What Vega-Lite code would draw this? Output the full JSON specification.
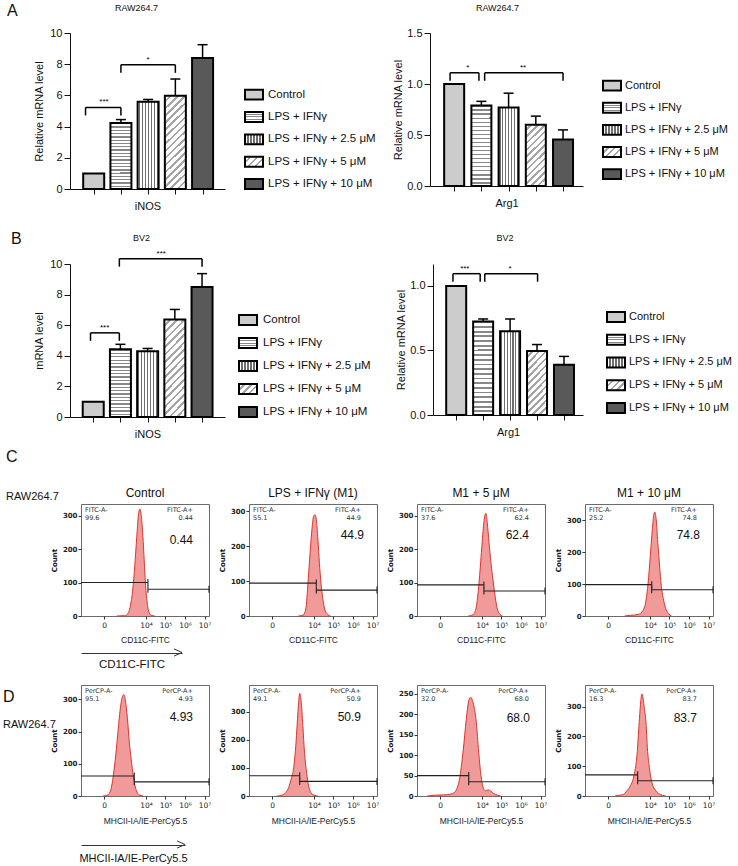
{
"$schema": "https://vega.github.io/schema/vega-lite/v6.json",
"background": "white",
"padding": {"left": 0, "top": 3, "right": 0, "bottom": 0},
"config": {
  "font": "Liberation Sans",
  "view": {"stroke": null},
  "axis": {"grid": false, "tickCount": 30, "labelOverlap": false, "labelBound": false, "labelFont": "Liberation Sans", "titleFont": "Liberation Sans", "titleFontWeight": "normal", "labelColor": "#111", "titleColor": "#111", "domainColor": "#111", "tickColor": "#111"},
  "title": {"font": "Liberation Sans", "fontWeight": "normal", "color": "#111"}
},
"params": [
  {"name": "gH", "value": {"gradient": "linear", "x1": 0, "y1": 0, "x2": 0.0001, "y2": 1, "stops": [
    {"offset":0,"color":"#888"},{"offset":0.02,"color":"#888"},{"offset":0.02,"color":"#fff"},{"offset":0.05,"color":"#fff"},
    {"offset":0.05,"color":"#888"},{"offset":0.07,"color":"#888"},{"offset":0.07,"color":"#fff"},{"offset":0.1,"color":"#fff"},
    {"offset":0.1,"color":"#888"},{"offset":0.12,"color":"#888"},{"offset":0.12,"color":"#fff"},{"offset":0.15,"color":"#fff"},
    {"offset":0.15,"color":"#888"},{"offset":0.17,"color":"#888"},{"offset":0.17,"color":"#fff"},{"offset":0.2,"color":"#fff"},
    {"offset":0.2,"color":"#888"},{"offset":0.22,"color":"#888"},{"offset":0.22,"color":"#fff"},{"offset":0.25,"color":"#fff"},
    {"offset":0.25,"color":"#888"},{"offset":0.27,"color":"#888"},{"offset":0.27,"color":"#fff"},{"offset":0.3,"color":"#fff"},
    {"offset":0.3,"color":"#888"},{"offset":0.32,"color":"#888"},{"offset":0.32,"color":"#fff"},{"offset":0.35,"color":"#fff"},
    {"offset":0.35,"color":"#888"},{"offset":0.37,"color":"#888"},{"offset":0.37,"color":"#fff"},{"offset":0.4,"color":"#fff"},
    {"offset":0.4,"color":"#888"},{"offset":0.42,"color":"#888"},{"offset":0.42,"color":"#fff"},{"offset":0.45,"color":"#fff"},
    {"offset":0.45,"color":"#888"},{"offset":0.47,"color":"#888"},{"offset":0.47,"color":"#fff"},{"offset":0.5,"color":"#fff"},
    {"offset":0.5,"color":"#888"},{"offset":0.52,"color":"#888"},{"offset":0.52,"color":"#fff"},{"offset":0.55,"color":"#fff"},
    {"offset":0.55,"color":"#888"},{"offset":0.57,"color":"#888"},{"offset":0.57,"color":"#fff"},{"offset":0.6,"color":"#fff"},
    {"offset":0.6,"color":"#888"},{"offset":0.62,"color":"#888"},{"offset":0.62,"color":"#fff"},{"offset":0.65,"color":"#fff"},
    {"offset":0.65,"color":"#888"},{"offset":0.67,"color":"#888"},{"offset":0.67,"color":"#fff"},{"offset":0.7,"color":"#fff"},
    {"offset":0.7,"color":"#888"},{"offset":0.72,"color":"#888"},{"offset":0.72,"color":"#fff"},{"offset":0.75,"color":"#fff"},
    {"offset":0.75,"color":"#888"},{"offset":0.77,"color":"#888"},{"offset":0.77,"color":"#fff"},{"offset":0.8,"color":"#fff"},
    {"offset":0.8,"color":"#888"},{"offset":0.82,"color":"#888"},{"offset":0.82,"color":"#fff"},{"offset":0.85,"color":"#fff"},
    {"offset":0.85,"color":"#888"},{"offset":0.87,"color":"#888"},{"offset":0.87,"color":"#fff"},{"offset":0.9,"color":"#fff"},
    {"offset":0.9,"color":"#888"},{"offset":0.92,"color":"#888"},{"offset":0.92,"color":"#fff"},{"offset":0.95,"color":"#fff"},
    {"offset":0.95,"color":"#888"},{"offset":0.97,"color":"#888"},{"offset":0.97,"color":"#fff"},{"offset":1,"color":"#fff"}]}},
  {"name": "gV", "value": {"gradient": "linear", "x1": 0, "y1": 0, "x2": 1, "y2": 0, "stops": [
    {"offset":0,"color":"#fff"},{"offset":0.045,"color":"#fff"},{"offset":0.045,"color":"#6e6e6e"},{"offset":0.1,"color":"#6e6e6e"},
    {"offset":0.1,"color":"#fff"},{"offset":0.188,"color":"#fff"},{"offset":0.188,"color":"#6e6e6e"},{"offset":0.243,"color":"#6e6e6e"},
    {"offset":0.243,"color":"#fff"},{"offset":0.331,"color":"#fff"},{"offset":0.331,"color":"#6e6e6e"},{"offset":0.386,"color":"#6e6e6e"},
    {"offset":0.386,"color":"#fff"},{"offset":0.474,"color":"#fff"},{"offset":0.474,"color":"#6e6e6e"},{"offset":0.529,"color":"#6e6e6e"},
    {"offset":0.529,"color":"#fff"},{"offset":0.617,"color":"#fff"},{"offset":0.617,"color":"#6e6e6e"},{"offset":0.672,"color":"#6e6e6e"},
    {"offset":0.672,"color":"#fff"},{"offset":0.76,"color":"#fff"},{"offset":0.76,"color":"#6e6e6e"},{"offset":0.815,"color":"#6e6e6e"},
    {"offset":0.815,"color":"#fff"},{"offset":0.902,"color":"#fff"},{"offset":0.902,"color":"#6e6e6e"},{"offset":0.957,"color":"#6e6e6e"},
    {"offset":0.957,"color":"#fff"},{"offset":1,"color":"#fff"}]}},
  {"name": "gD1", "value": {"gradient": "linear", "x1": 0, "y1": 0, "x2": 0.256, "y2": 1.164, "stops": [
    {"offset":0,"color":"#fff"},{"offset":0.04,"color":"#fff"},{"offset":0.04,"color":"#a5a5a5"},{"offset":0.0625,"color":"#a5a5a5"},
    {"offset":0.0625,"color":"#fff"},{"offset":0.1025,"color":"#fff"},{"offset":0.1025,"color":"#a5a5a5"},{"offset":0.125,"color":"#a5a5a5"},
    {"offset":0.125,"color":"#fff"},{"offset":0.165,"color":"#fff"},{"offset":0.165,"color":"#a5a5a5"},{"offset":0.1875,"color":"#a5a5a5"},
    {"offset":0.1875,"color":"#fff"},{"offset":0.2275,"color":"#fff"},{"offset":0.2275,"color":"#a5a5a5"},{"offset":0.25,"color":"#a5a5a5"},
    {"offset":0.25,"color":"#fff"},{"offset":0.29,"color":"#fff"},{"offset":0.29,"color":"#a5a5a5"},{"offset":0.3125,"color":"#a5a5a5"},
    {"offset":0.3125,"color":"#fff"},{"offset":0.3525,"color":"#fff"},{"offset":0.3525,"color":"#a5a5a5"},{"offset":0.375,"color":"#a5a5a5"},
    {"offset":0.375,"color":"#fff"},{"offset":0.415,"color":"#fff"},{"offset":0.415,"color":"#a5a5a5"},{"offset":0.4375,"color":"#a5a5a5"},
    {"offset":0.4375,"color":"#fff"},{"offset":0.4775,"color":"#fff"},{"offset":0.4775,"color":"#a5a5a5"},{"offset":0.5,"color":"#a5a5a5"},
    {"offset":0.5,"color":"#fff"},{"offset":0.54,"color":"#fff"},{"offset":0.54,"color":"#a5a5a5"},{"offset":0.5625,"color":"#a5a5a5"},
    {"offset":0.5625,"color":"#fff"},{"offset":0.6025,"color":"#fff"},{"offset":0.6025,"color":"#a5a5a5"},{"offset":0.625,"color":"#a5a5a5"},
    {"offset":0.625,"color":"#fff"},{"offset":0.665,"color":"#fff"},{"offset":0.665,"color":"#a5a5a5"},{"offset":0.6875,"color":"#a5a5a5"},
    {"offset":0.6875,"color":"#fff"},{"offset":0.7275,"color":"#fff"},{"offset":0.7275,"color":"#a5a5a5"},{"offset":0.75,"color":"#a5a5a5"},
    {"offset":0.75,"color":"#fff"},{"offset":0.79,"color":"#fff"},{"offset":0.79,"color":"#a5a5a5"},{"offset":0.8125,"color":"#a5a5a5"},
    {"offset":0.8125,"color":"#fff"},{"offset":0.8525,"color":"#fff"},{"offset":0.8525,"color":"#a5a5a5"},{"offset":0.875,"color":"#a5a5a5"},
    {"offset":0.875,"color":"#fff"},{"offset":0.915,"color":"#fff"},{"offset":0.915,"color":"#a5a5a5"},{"offset":0.9375,"color":"#a5a5a5"},
    {"offset":0.9375,"color":"#fff"},{"offset":0.9775,"color":"#fff"},{"offset":0.9775,"color":"#a5a5a5"},{"offset":1,"color":"#a5a5a5"}]}},
  {"name": "gD2", "value": {"gradient": "linear", "x1": 0, "y1": 0, "x2": 0.383, "y2": 1.197, "stops": [
    {"offset":0,"color":"#fff"},{"offset":0.053,"color":"#fff"},{"offset":0.053,"color":"#a5a5a5"},{"offset":0.0833,"color":"#a5a5a5"},
    {"offset":0.0833,"color":"#fff"},{"offset":0.1363,"color":"#fff"},{"offset":0.1363,"color":"#a5a5a5"},{"offset":0.1667,"color":"#a5a5a5"},
    {"offset":0.1667,"color":"#fff"},{"offset":0.2197,"color":"#fff"},{"offset":0.2197,"color":"#a5a5a5"},{"offset":0.25,"color":"#a5a5a5"},
    {"offset":0.25,"color":"#fff"},{"offset":0.303,"color":"#fff"},{"offset":0.303,"color":"#a5a5a5"},{"offset":0.3333,"color":"#a5a5a5"},
    {"offset":0.3333,"color":"#fff"},{"offset":0.3863,"color":"#fff"},{"offset":0.3863,"color":"#a5a5a5"},{"offset":0.4167,"color":"#a5a5a5"},
    {"offset":0.4167,"color":"#fff"},{"offset":0.4697,"color":"#fff"},{"offset":0.4697,"color":"#a5a5a5"},{"offset":0.5,"color":"#a5a5a5"},
    {"offset":0.5,"color":"#fff"},{"offset":0.553,"color":"#fff"},{"offset":0.553,"color":"#a5a5a5"},{"offset":0.5833,"color":"#a5a5a5"},
    {"offset":0.5833,"color":"#fff"},{"offset":0.6363,"color":"#fff"},{"offset":0.6363,"color":"#a5a5a5"},{"offset":0.6667,"color":"#a5a5a5"},
    {"offset":0.6667,"color":"#fff"},{"offset":0.7197,"color":"#fff"},{"offset":0.7197,"color":"#a5a5a5"},{"offset":0.75,"color":"#a5a5a5"},
    {"offset":0.75,"color":"#fff"},{"offset":0.803,"color":"#fff"},{"offset":0.803,"color":"#a5a5a5"},{"offset":0.8333,"color":"#a5a5a5"},
    {"offset":0.8333,"color":"#fff"},{"offset":0.8863,"color":"#fff"},{"offset":0.8863,"color":"#a5a5a5"},{"offset":0.9167,"color":"#a5a5a5"},
    {"offset":0.9167,"color":"#fff"},{"offset":0.9697,"color":"#fff"},{"offset":0.9697,"color":"#a5a5a5"},{"offset":1,"color":"#a5a5a5"}]}},
  {"name": "gHL", "value": {"gradient": "linear", "x1": 0, "y1": 0, "x2": 0.0001, "y2": 1, "stops": [
    {"offset":0,"color":"#fff"},{"offset":0.22,"color":"#fff"},{"offset":0.22,"color":"#888"},{"offset":0.32,"color":"#888"},
    {"offset":0.32,"color":"#fff"},{"offset":0.45,"color":"#fff"},{"offset":0.45,"color":"#888"},{"offset":0.55,"color":"#888"},
    {"offset":0.55,"color":"#fff"},{"offset":0.68,"color":"#fff"},{"offset":0.68,"color":"#888"},{"offset":0.78,"color":"#888"},
    {"offset":0.78,"color":"#fff"},{"offset":1,"color":"#fff"}]}},
  {"name": "gVL", "value": {"gradient": "linear", "x1": 0, "y1": 0, "x2": 1, "y2": 0, "stops": [
    {"offset":0,"color":"#fff"},{"offset":0.137,"color":"#fff"},{"offset":0.137,"color":"#6e6e6e"},{"offset":0.197,"color":"#6e6e6e"},
    {"offset":0.197,"color":"#fff"},{"offset":0.303,"color":"#fff"},{"offset":0.303,"color":"#6e6e6e"},{"offset":0.363,"color":"#6e6e6e"},
    {"offset":0.363,"color":"#fff"},{"offset":0.47,"color":"#fff"},{"offset":0.47,"color":"#6e6e6e"},{"offset":0.53,"color":"#6e6e6e"},
    {"offset":0.53,"color":"#fff"},{"offset":0.637,"color":"#fff"},{"offset":0.637,"color":"#6e6e6e"},{"offset":0.697,"color":"#6e6e6e"},
    {"offset":0.697,"color":"#fff"},{"offset":0.803,"color":"#fff"},{"offset":0.803,"color":"#6e6e6e"},{"offset":0.863,"color":"#6e6e6e"},
    {"offset":0.863,"color":"#fff"},{"offset":1,"color":"#fff"}]}},
  {"name": "gDL", "value": {"gradient": "linear", "x1": 0, "y1": 0, "x2": 1.19, "y2": 0.654, "stops": [
    {"offset":0,"color":"#fff"},{"offset":0.17,"color":"#fff"},{"offset":0.17,"color":"#a5a5a5"},{"offset":0.25,"color":"#a5a5a5"},
    {"offset":0.25,"color":"#fff"},{"offset":0.42,"color":"#fff"},{"offset":0.42,"color":"#a5a5a5"},{"offset":0.5,"color":"#a5a5a5"},
    {"offset":0.5,"color":"#fff"},{"offset":0.67,"color":"#fff"},{"offset":0.67,"color":"#a5a5a5"},{"offset":0.75,"color":"#a5a5a5"},
    {"offset":0.75,"color":"#fff"},{"offset":0.92,"color":"#fff"},{"offset":0.92,"color":"#a5a5a5"},{"offset":1,"color":"#a5a5a5"}]}}
],
"datasets": {
  "bars": [
    {"c":"A1","i":1,"v":1.0,"e":1.0},{"c":"A1","i":2,"v":4.23,"e":4.45},{"c":"A1","i":3,"v":5.6,"e":5.74},{"c":"A1","i":4,"v":5.97,"e":7.05},{"c":"A1","i":5,"v":8.39,"e":9.25},
    {"c":"A2","i":1,"v":1.0,"e":1.0},{"c":"A2","i":2,"v":0.79,"e":0.83},{"c":"A2","i":3,"v":0.77,"e":0.91},{"c":"A2","i":4,"v":0.6,"e":0.685},{"c":"A2","i":5,"v":0.457,"e":0.55},
    {"c":"B1","i":1,"v":1.0,"e":1.0},{"c":"B1","i":2,"v":4.42,"e":4.75},{"c":"B1","i":3,"v":4.29,"e":4.48},{"c":"B1","i":4,"v":6.38,"e":7.03},{"c":"B1","i":5,"v":8.5,"e":9.37},
    {"c":"B2","i":1,"v":1.0,"e":1.0},{"c":"B2","i":2,"v":0.725,"e":0.744},{"c":"B2","i":3,"v":0.648,"e":0.744},{"c":"B2","i":4,"v":0.495,"e":0.546},{"c":"B2","i":5,"v":0.39,"e":0.454}
  ],
  "sig": [
    {"c":"A1","a":0.7,"b":2,"y":5.23,"m":1.38,"s":"***"},{"c":"A1","a":2,"b":4,"y":7.96,"m":3,"s":"*"},
    {"c":"A2","a":0.85,"b":1.91,"y":1.11,"m":1.5,"s":"*"},{"c":"A2","a":2.12,"b":5,"y":1.11,"m":3.53,"s":"**"},
    {"c":"B1","a":0.9,"b":1.96,"y":5.5,"m":1.42,"s":"***"},{"c":"B1","a":1.96,"b":5,"y":10.35,"m":3.5,"s":"***"},
    {"c":"B2","a":0.88,"b":1.89,"y":1.095,"m":1.32,"s":"***"},{"c":"B2","a":2.06,"b":4.02,"y":1.095,"m":3.0,"s":"*"}
  ],
  "groups": [
    {"i":1,"g":"Control"},{"i":2,"g":"LPS + IFNγ"},{"i":3,"g":"LPS + IFNγ + 2.5 μM"},{"i":4,"g":"LPS + IFNγ + 5 μM"},{"i":5,"g":"LPS + IFNγ + 10 μM"}
  ],
  "curves": [
    {"p":"C1","x":2.5,"n":0},{"p":"C1","x":2.9,"n":1},{"p":"C1","x":3.05,"n":6},{"p":"C1","x":3.2,"n":30},{"p":"C1","x":3.35,"n":95},{"p":"C1","x":3.45,"n":170},{"p":"C1","x":3.55,"n":255},{"p":"C1","x":3.63,"n":310},{"p":"C1","x":3.69,"n":320},{"p":"C1","x":3.76,"n":300},{"p":"C1","x":3.84,"n":240},{"p":"C1","x":3.91,"n":165},{"p":"C1","x":3.97,"n":100},{"p":"C1","x":4.05,"n":45},{"p":"C1","x":4.14,"n":14},{"p":"C1","x":4.25,"n":3},{"p":"C1","x":4.45,"n":0},
    {"p":"C2","x":3.2,"n":0},{"p":"C2","x":3.45,"n":3},{"p":"C2","x":3.58,"n":20},{"p":"C2","x":3.7,"n":100},{"p":"C2","x":3.8,"n":180},{"p":"C2","x":3.9,"n":250},{"p":"C2","x":3.98,"n":285},{"p":"C2","x":4.05,"n":289},{"p":"C2","x":4.12,"n":275},{"p":"C2","x":4.2,"n":220},{"p":"C2","x":4.28,"n":150},{"p":"C2","x":4.35,"n":100},{"p":"C2","x":4.45,"n":50},{"p":"C2","x":4.55,"n":20},{"p":"C2","x":4.68,"n":6},{"p":"C2","x":4.85,"n":0},
    {"p":"C3","x":3.3,"n":0},{"p":"C3","x":3.55,"n":4},{"p":"C3","x":3.7,"n":25},{"p":"C3","x":3.85,"n":100},{"p":"C3","x":3.97,"n":190},{"p":"C3","x":4.08,"n":270},{"p":"C3","x":4.15,"n":302},{"p":"C3","x":4.2,"n":307},{"p":"C3","x":4.27,"n":280},{"p":"C3","x":4.36,"n":220},{"p":"C3","x":4.46,"n":160},{"p":"C3","x":4.56,"n":110},{"p":"C3","x":4.66,"n":65},{"p":"C3","x":4.76,"n":28},{"p":"C3","x":4.88,"n":8},{"p":"C3","x":5.05,"n":0},
    {"p":"C4","x":2.7,"n":0},{"p":"C4","x":3.0,"n":2},{"p":"C4","x":3.4,"n":5},{"p":"C4","x":3.65,"n":18},{"p":"C4","x":3.8,"n":50},{"p":"C4","x":3.9,"n":100},{"p":"C4","x":4.02,"n":190},{"p":"C4","x":4.12,"n":270},{"p":"C4","x":4.2,"n":318},{"p":"C4","x":4.25,"n":325},{"p":"C4","x":4.32,"n":300},{"p":"C4","x":4.4,"n":230},{"p":"C4","x":4.5,"n":150},{"p":"C4","x":4.57,"n":100},{"p":"C4","x":4.68,"n":55},{"p":"C4","x":4.8,"n":25},{"p":"C4","x":4.95,"n":8},{"p":"C4","x":5.1,"n":0},
    {"p":"D1","x":1.8,"n":0},{"p":"D1","x":2.05,"n":3},{"p":"D1","x":2.2,"n":20},{"p":"D1","x":2.32,"n":60},{"p":"D1","x":2.42,"n":110},{"p":"D1","x":2.55,"n":190},{"p":"D1","x":2.68,"n":270},{"p":"D1","x":2.8,"n":310},{"p":"D1","x":2.87,"n":315},{"p":"D1","x":2.95,"n":295},{"p":"D1","x":3.05,"n":240},{"p":"D1","x":3.15,"n":165},{"p":"D1","x":3.27,"n":100},{"p":"D1","x":3.38,"n":50},{"p":"D1","x":3.5,"n":18},{"p":"D1","x":3.65,"n":4},{"p":"D1","x":3.85,"n":0},
    {"p":"D2","x":2.1,"n":0},{"p":"D2","x":2.35,"n":3},{"p":"D2","x":2.55,"n":12},{"p":"D2","x":2.7,"n":30},{"p":"D2","x":2.85,"n":65},{"p":"D2","x":2.96,"n":100},{"p":"D2","x":3.08,"n":190},{"p":"D2","x":3.18,"n":300},{"p":"D2","x":3.27,"n":365},{"p":"D2","x":3.34,"n":340},{"p":"D2","x":3.43,"n":250},{"p":"D2","x":3.52,"n":150},{"p":"D2","x":3.6,"n":95},{"p":"D2","x":3.7,"n":45},{"p":"D2","x":3.82,"n":15},{"p":"D2","x":4.0,"n":3},{"p":"D2","x":4.2,"n":0},
    {"p":"D3","x":1.2,"n":0},{"p":"D3","x":1.6,"n":2},{"p":"D3","x":2.2,"n":3},{"p":"D3","x":2.5,"n":6},{"p":"D3","x":2.65,"n":12},{"p":"D3","x":2.85,"n":42},{"p":"D3","x":3.03,"n":108},{"p":"D3","x":3.2,"n":190},{"p":"D3","x":3.3,"n":228},{"p":"D3","x":3.38,"n":240},{"p":"D3","x":3.45,"n":241},{"p":"D3","x":3.52,"n":232},{"p":"D3","x":3.62,"n":212},{"p":"D3","x":3.71,"n":180},{"p":"D3","x":3.83,"n":108},{"p":"D3","x":3.95,"n":50},{"p":"D3","x":4.05,"n":22},{"p":"D3","x":4.18,"n":13},{"p":"D3","x":4.32,"n":15},{"p":"D3","x":4.45,"n":12},{"p":"D3","x":4.6,"n":6},{"p":"D3","x":4.8,"n":2},{"p":"D3","x":4.95,"n":0},
    {"p":"D4","x":2.2,"n":0},{"p":"D4","x":2.4,"n":2},{"p":"D4","x":2.65,"n":6},{"p":"D4","x":2.81,"n":17},{"p":"D4","x":3.0,"n":35},{"p":"D4","x":3.15,"n":60},{"p":"D4","x":3.35,"n":150},{"p":"D4","x":3.46,"n":260},{"p":"D4","x":3.53,"n":320},{"p":"D4","x":3.58,"n":343},{"p":"D4","x":3.64,"n":330},{"p":"D4","x":3.72,"n":290},{"p":"D4","x":3.78,"n":260},{"p":"D4","x":3.88,"n":150},{"p":"D4","x":3.97,"n":95},{"p":"D4","x":4.05,"n":60},{"p":"D4","x":4.15,"n":35},{"p":"D4","x":4.26,"n":21},{"p":"D4","x":4.45,"n":8},{"p":"D4","x":4.65,"n":2},{"p":"D4","x":4.8,"n":0}
  ],
  "gates": [
    {"p":"C1","lo":0.67,"hi":7.23,"top":335,"gate":4.1,"yn":100,"yp":80,"nt":"FITC-A-\n99.6","pt":"FITC-A+\n0.44","big":"0.44"},
    {"p":"C2","lo":0.67,"hi":7.23,"top":320,"gate":4.12,"yn":94,"yp":74,"nt":"FITC-A-\n55.1","pt":"FITC-A+\n44.9","big":"44.9"},
    {"p":"C3","lo":0.67,"hi":7.23,"top":335,"gate":4.1,"yn":93,"yp":75,"nt":"FITC-A-\n37.6","pt":"FITC-A+\n62.4","big":"62.4"},
    {"p":"C4","lo":0.67,"hi":7.23,"top":350,"gate":4.09,"yn":98,"yp":82,"nt":"FITC-A-\n25.2","pt":"FITC-A+\n74.8","big":"74.8"},
    {"p":"D1","lo":0.67,"hi":7.23,"top":345,"gate":3.4,"yn":62,"yp":44,"nt":"PerCP-A-\n95.1","pt":"PerCP-A+\n4.93","big":"4.93"},
    {"p":"D2","lo":0.67,"hi":7.23,"top":395,"gate":3.27,"yn":72,"yp":52,"nt":"PerCP-A-\n49.1","pt":"PerCP-A+\n50.9","big":"50.9"},
    {"p":"D3","lo":0.67,"hi":7.23,"top":272,"gate":3.32,"yn":50,"yp":35,"nt":"PerCP-A-\n32.0","pt":"PerCP-A+\n68.0","big":"68.0"},
    {"p":"D4","lo":0.67,"hi":7.23,"top":373,"gate":3.37,"yn":71,"yp":51,"nt":"PerCP-A-\n16.3","pt":"PerCP-A+\n83.7","big":"83.7"}
  ]
},
"spacing": 0,
"vconcat": [
 {"hconcat": [
   {"width": 60, "height": 198, "data": {"values": [{"t": ""}]}, "mark": {"type": "text"}, "encoding": {"text": {"field": "t", "type": "nominal"}},
    "title": {"text": "A", "anchor": "start", "frame": "group", "fontSize": 16, "dx": 7, "offset": 14}},
   {"width": 155, "height": 156,
    "title": {"text": "RAW264.7", "fontSize": 9, "dx": -11, "offset": 14},
    "layer": [
     {"data": {"name": "bars"}, "transform": [{"filter": "datum.c === 'A1'"}],
      "mark": {"type": "bar", "orient": "vertical", "size": 21, "stroke": "#000", "strokeWidth": 2},
      "encoding": {
       "x": {"field": "i", "type": "quantitative", "scale": {"domain": [0.313, 5.64], "nice": false, "zero": false},
             "axis": {"values": [1,2,3,4,5], "labels": false, "tickSize": 5, "title": "iNOS", "titleFontSize": 11, "titlePadding": 6}},
       "y": {"field": "v", "type": "quantitative", "scale": {"domain": [0, 10], "nice": false}, "stack": null,
             "axis": {"values": [0,2,4,6,8,10], "format": "d", "tickSize": 6, "labelFontSize": 11, "labelPadding": 2, "title": "Relative mRNA level", "titleFontSize": 11, "titlePadding": 5}},
       "fill": {"value": {"expr": "datum.i == 1 ? '#cccccc' : datum.i == 2 ? gH : datum.i == 3 ? gV : datum.i == 4 ? gD1 : '#595959'"}}}},
     {"data": {"name": "bars"}, "transform": [{"filter": "datum.c === 'A1' && datum.e > datum.v"}],
      "layer": [
       {"mark": {"type": "rule", "color": "#000", "strokeWidth": 1.5}, "encoding": {"x": {"field": "i", "type": "quantitative"}, "y": {"field": "v", "type": "quantitative"}, "y2": {"field": "e"}}},
       {"mark": {"type": "rule", "color": "#000", "strokeWidth": 1.5, "xOffset": -5, "x2Offset": 5}, "encoding": {"x": {"field": "i", "type": "quantitative"}, "x2": {"field": "i"}, "y": {"field": "e", "type": "quantitative"}}}]},
     {"data": {"name": "sig"}, "transform": [{"filter": "datum.c === 'A1'"}],
      "layer": [
       {"mark": {"type": "rule", "color": "#000", "strokeWidth": 1.5}, "encoding": {"x": {"field": "a", "type": "quantitative"}, "x2": {"field": "b"}, "y": {"field": "y", "type": "quantitative"}}},
       {"mark": {"type": "rule", "color": "#000", "strokeWidth": 1.5, "y2Offset": 8}, "encoding": {"x": {"field": "a", "type": "quantitative"}, "y": {"field": "y", "type": "quantitative"}, "y2": {"field": "y"}}},
       {"mark": {"type": "rule", "color": "#000", "strokeWidth": 1.5, "y2Offset": 8}, "encoding": {"x": {"field": "b", "type": "quantitative"}, "y": {"field": "y", "type": "quantitative"}, "y2": {"field": "y"}}},
       {"mark": {"type": "text", "baseline": "bottom", "dy": -1, "fontSize": 8}, "encoding": {"x": {"field": "m", "type": "quantitative"}, "y": {"field": "y", "type": "quantitative"}, "text": {"field": "s", "type": "nominal"}}}]}
    ]},
   {"width": 185, "height": 156, "data": {"name": "groups"},
    "layer": [
     {"mark": {"type": "point", "shape": "M-1,-0.55L1,-0.55L1,0.55L-1,0.55Z", "size": 324, "filled": true, "stroke": "#000", "strokeWidth": 2, "opacity": 1},
      "encoding": {
       "x": {"datum": 0, "type": "quantitative", "scale": {"domain": [-19, 166], "nice": false, "zero": false}, "axis": null},
       "y": {"field": "i", "type": "quantitative", "scale": {"domain": [-1.756, 5.222], "reverse": true, "nice": false, "zero": false}, "axis": null},
       "fill": {"value": {"expr": "datum.i == 1 ? '#cccccc' : datum.i == 2 ? gHL : datum.i == 3 ? gVL : datum.i == 4 ? gDL : '#595959'"}}}},
     {"mark": {"type": "text", "align": "left", "baseline": "middle", "dx": 14, "fontSize": 11.5, "color": "#111"},
      "encoding": {"x": {"datum": 0, "type": "quantitative", "axis": null}, "y": {"field": "i", "type": "quantitative", "axis": null}, "text": {"field": "g", "type": "nominal"}}}
    ]},
   {"width": 153, "height": 153,
    "title": {"text": "RAW264.7", "fontSize": 9, "dx": -9, "offset": 14},
    "layer": [
     {"data": {"name": "bars"}, "transform": [{"filter": "datum.c === 'A2'"}],
      "mark": {"type": "bar", "orient": "vertical", "size": 20, "stroke": "#000", "strokeWidth": 2},
      "encoding": {
       "x": {"field": "i", "type": "quantitative", "scale": {"domain": [0.296, 5.55], "nice": false, "zero": false},
             "axis": {"values": [1,2,3,4,5], "labels": false, "tickSize": 5, "title": "Arg1", "titleFontSize": 11, "titlePadding": 6}},
       "y": {"field": "v", "type": "quantitative", "scale": {"domain": [0, 1.5], "nice": false, "zero": true}, "stack": null,
             "axis": {"tickCount": 3, "format": ".1f", "tickSize": 6, "labelFontSize": 11, "labelPadding": 2, "labelFlush": false, "labelOverlap": false, "labelBound": false, "title": "Relative mRNA level", "titleFontSize": 11, "titlePadding": 3}},
       "fill": {"value": {"expr": "datum.i == 1 ? '#cccccc' : datum.i == 2 ? gH : datum.i == 3 ? gV : datum.i == 4 ? gD2 : '#595959'"}}}},
     {"data": {"name": "bars"}, "transform": [{"filter": "datum.c === 'A2' && datum.e > datum.v"}],
      "layer": [
       {"mark": {"type": "rule", "color": "#000", "strokeWidth": 1.5}, "encoding": {"x": {"field": "i", "type": "quantitative"}, "y": {"field": "v", "type": "quantitative"}, "y2": {"field": "e"}}},
       {"mark": {"type": "rule", "color": "#000", "strokeWidth": 1.5, "xOffset": -5, "x2Offset": 5}, "encoding": {"x": {"field": "i", "type": "quantitative"}, "x2": {"field": "i"}, "y": {"field": "e", "type": "quantitative"}}}]},
     {"data": {"name": "sig"}, "transform": [{"filter": "datum.c === 'A2'"}],
      "layer": [
       {"mark": {"type": "rule", "color": "#000", "strokeWidth": 1.5}, "encoding": {"x": {"field": "a", "type": "quantitative"}, "x2": {"field": "b"}, "y": {"field": "y", "type": "quantitative"}}},
       {"mark": {"type": "rule", "color": "#000", "strokeWidth": 1.5, "y2Offset": 8}, "encoding": {"x": {"field": "a", "type": "quantitative"}, "y": {"field": "y", "type": "quantitative"}, "y2": {"field": "y"}}},
       {"mark": {"type": "rule", "color": "#000", "strokeWidth": 1.5, "y2Offset": 8}, "encoding": {"x": {"field": "b", "type": "quantitative"}, "y": {"field": "y", "type": "quantitative"}, "y2": {"field": "y"}}},
       {"mark": {"type": "text", "baseline": "bottom", "dy": -1, "fontSize": 8}, "encoding": {"x": {"field": "m", "type": "quantitative"}, "y": {"field": "y", "type": "quantitative"}, "text": {"field": "s", "type": "nominal"}}}]}
    ]},
   {"width": 140, "height": 156, "data": {"name": "groups"},
    "layer": [
     {"mark": {"type": "point", "shape": "M-1,-0.55L1,-0.55L1,0.55L-1,0.55Z", "size": 324, "filled": true, "stroke": "#000", "strokeWidth": 2, "opacity": 1},
      "encoding": {
       "x": {"datum": 0, "type": "quantitative", "scale": {"domain": [-19, 121], "nice": false, "zero": false}, "axis": null},
       "y": {"field": "i", "type": "quantitative", "scale": {"domain": [-1.382, 5.674], "reverse": true, "nice": false, "zero": false}, "axis": null},
       "fill": {"value": {"expr": "datum.i == 1 ? '#cccccc' : datum.i == 2 ? gHL : datum.i == 3 ? gVL : datum.i == 4 ? gDL : '#595959'"}}}},
     {"mark": {"type": "text", "align": "left", "baseline": "middle", "dx": 13, "fontSize": 11, "color": "#111"},
      "encoding": {"x": {"datum": 0, "type": "quantitative", "axis": null}, "y": {"field": "i", "type": "quantitative", "axis": null}, "text": {"field": "g", "type": "nominal"}}}
    ]}
  ], "spacing": 10, "bounds": "flush"},
 {"hconcat": [
   {"width": 60, "height": 185, "data": {"values": [{"t": ""}]}, "mark": {"type": "text"}, "encoding": {"text": {"field": "t", "type": "nominal"}},
    "title": {"text": "B", "anchor": "start", "frame": "group", "fontSize": 16, "dx": 11, "offset": 17}},
   {"width": 155, "height": 153,
    "title": {"text": "BV2", "fontSize": 9, "dx": -6, "offset": 7},
    "layer": [
     {"data": {"name": "bars"}, "transform": [{"filter": "datum.c === 'B1'"}],
      "mark": {"type": "bar", "orient": "vertical", "size": 21, "stroke": "#000", "strokeWidth": 2},
      "encoding": {
       "x": {"field": "i", "type": "quantitative", "scale": {"domain": [0.33, 5.66], "nice": false, "zero": false},
             "axis": {"values": [1,2,3,4,5], "labels": false, "tickSize": 5, "title": "iNOS", "titleFontSize": 11, "titlePadding": 6}},
       "y": {"field": "v", "type": "quantitative", "scale": {"domain": [0, 10], "nice": false}, "stack": null,
             "axis": {"values": [0,2,4,6,8,10], "format": "d", "tickSize": 6, "labelFontSize": 11, "labelPadding": 2, "title": "mRNA level", "titleFontSize": 11, "titlePadding": 5}},
       "fill": {"value": {"expr": "datum.i == 1 ? '#cccccc' : datum.i == 2 ? gH : datum.i == 3 ? gV : datum.i == 4 ? gD1 : '#595959'"}}}},
     {"data": {"name": "bars"}, "transform": [{"filter": "datum.c === 'B1' && datum.e > datum.v"}],
      "layer": [
       {"mark": {"type": "rule", "color": "#000", "strokeWidth": 1.5}, "encoding": {"x": {"field": "i", "type": "quantitative"}, "y": {"field": "v", "type": "quantitative"}, "y2": {"field": "e"}}},
       {"mark": {"type": "rule", "color": "#000", "strokeWidth": 1.5, "xOffset": -5, "x2Offset": 5}, "encoding": {"x": {"field": "i", "type": "quantitative"}, "x2": {"field": "i"}, "y": {"field": "e", "type": "quantitative"}}}]},
     {"data": {"name": "sig"}, "transform": [{"filter": "datum.c === 'B1'"}],
      "layer": [
       {"mark": {"type": "rule", "color": "#000", "strokeWidth": 1.5}, "encoding": {"x": {"field": "a", "type": "quantitative"}, "x2": {"field": "b"}, "y": {"field": "y", "type": "quantitative"}}},
       {"mark": {"type": "rule", "color": "#000", "strokeWidth": 1.5, "y2Offset": 8}, "encoding": {"x": {"field": "a", "type": "quantitative"}, "y": {"field": "y", "type": "quantitative"}, "y2": {"field": "y"}}},
       {"mark": {"type": "rule", "color": "#000", "strokeWidth": 1.5, "y2Offset": 8}, "encoding": {"x": {"field": "b", "type": "quantitative"}, "y": {"field": "y", "type": "quantitative"}, "y2": {"field": "y"}}},
       {"mark": {"type": "text", "baseline": "bottom", "dy": -1, "fontSize": 8}, "encoding": {"x": {"field": "m", "type": "quantitative"}, "y": {"field": "y", "type": "quantitative"}, "text": {"field": "s", "type": "nominal"}}}]}
    ]},
   {"width": 188, "height": 153, "data": {"name": "groups"},
    "layer": [
     {"mark": {"type": "point", "shape": "M-1,-0.55L1,-0.55L1,0.55L-1,0.55Z", "size": 324, "filled": true, "stroke": "#000", "strokeWidth": 2, "opacity": 1},
      "encoding": {
       "x": {"datum": 0, "type": "quantitative", "scale": {"domain": [-13, 175], "nice": false, "zero": false}, "axis": null},
       "y": {"field": "i", "type": "quantitative", "scale": {"domain": [-1.435, 5.217], "reverse": true, "nice": false, "zero": false}, "axis": null},
       "fill": {"value": {"expr": "datum.i == 1 ? '#cccccc' : datum.i == 2 ? gHL : datum.i == 3 ? gVL : datum.i == 4 ? gDL : '#595959'"}}}},
     {"mark": {"type": "text", "align": "left", "baseline": "middle", "dx": 15, "fontSize": 11.5, "color": "#111"},
      "encoding": {"x": {"datum": 0, "type": "quantitative", "axis": null}, "y": {"field": "i", "type": "quantitative", "axis": null}, "text": {"field": "g", "type": "nominal"}}}
    ]},
   {"width": 150, "height": 151,
    "title": {"text": "BV2", "fontSize": 9, "dx": -3, "offset": 21},
    "layer": [
     {"data": {"name": "bars"}, "transform": [{"filter": "datum.c === 'B2'"}],
      "mark": {"type": "bar", "orient": "vertical", "size": 20, "stroke": "#000", "strokeWidth": 2},
      "encoding": {
       "x": {"field": "i", "type": "quantitative", "scale": {"domain": [0.325, 5.52], "nice": false, "zero": false},
             "axis": {"values": [1,2,3,4,5], "labels": false, "tickSize": 5, "title": "Arg1", "titleFontSize": 11, "titlePadding": 6}},
       "y": {"field": "v", "type": "quantitative", "scale": {"domain": [0, 1.17], "nice": false}, "stack": null,
             "axis": {"values": [0,0.5,1], "format": ".1f", "tickSize": 6, "labelFontSize": 11, "labelPadding": 2, "title": "Relative mRNA level", "titleFontSize": 11, "titlePadding": 3}},
       "fill": {"value": {"expr": "datum.i == 1 ? '#cccccc' : datum.i == 2 ? gH : datum.i == 3 ? gV : datum.i == 4 ? gD2 : '#595959'"}}}},
     {"data": {"name": "bars"}, "transform": [{"filter": "datum.c === 'B2' && datum.e > datum.v"}],
      "layer": [
       {"mark": {"type": "rule", "color": "#000", "strokeWidth": 1.5}, "encoding": {"x": {"field": "i", "type": "quantitative"}, "y": {"field": "v", "type": "quantitative"}, "y2": {"field": "e"}}},
       {"mark": {"type": "rule", "color": "#000", "strokeWidth": 1.5, "xOffset": -5, "x2Offset": 5}, "encoding": {"x": {"field": "i", "type": "quantitative"}, "x2": {"field": "i"}, "y": {"field": "e", "type": "quantitative"}}}]},
     {"data": {"name": "sig"}, "transform": [{"filter": "datum.c === 'B2'"}],
      "layer": [
       {"mark": {"type": "rule", "color": "#000", "strokeWidth": 1.5}, "encoding": {"x": {"field": "a", "type": "quantitative"}, "x2": {"field": "b"}, "y": {"field": "y", "type": "quantitative"}}},
       {"mark": {"type": "rule", "color": "#000", "strokeWidth": 1.5, "y2Offset": 8}, "encoding": {"x": {"field": "a", "type": "quantitative"}, "y": {"field": "y", "type": "quantitative"}, "y2": {"field": "y"}}},
       {"mark": {"type": "rule", "color": "#000", "strokeWidth": 1.5, "y2Offset": 8}, "encoding": {"x": {"field": "b", "type": "quantitative"}, "y": {"field": "y", "type": "quantitative"}, "y2": {"field": "y"}}},
       {"mark": {"type": "text", "baseline": "bottom", "dy": -1, "fontSize": 8}, "encoding": {"x": {"field": "m", "type": "quantitative"}, "y": {"field": "y", "type": "quantitative"}, "text": {"field": "s", "type": "nominal"}}}]}
    ]},
   {"width": 140, "height": 153, "data": {"name": "groups"},
    "layer": [
     {"mark": {"type": "point", "shape": "M-1,-0.55L1,-0.55L1,0.55L-1,0.55Z", "size": 324, "filled": true, "stroke": "#000", "strokeWidth": 2, "opacity": 1},
      "encoding": {
       "x": {"datum": 0, "type": "quantitative", "scale": {"domain": [-23, 117], "nice": false, "zero": false}, "axis": null},
       "y": {"field": "i", "type": "quantitative", "scale": {"domain": [-1.33, 5.396], "reverse": true, "nice": false, "zero": false}, "axis": null},
       "fill": {"value": {"expr": "datum.i == 1 ? '#cccccc' : datum.i == 2 ? gHL : datum.i == 3 ? gVL : datum.i == 4 ? gDL : '#595959'"}}}},
     {"mark": {"type": "text", "align": "left", "baseline": "middle", "dx": 13, "fontSize": 11, "color": "#111"},
      "encoding": {"x": {"datum": 0, "type": "quantitative", "axis": null}, "y": {"field": "i", "type": "quantitative", "axis": null}, "text": {"field": "g", "type": "nominal"}}}
    ]}
  ], "spacing": 10, "bounds": "flush"},
 {"hconcat": [
   {"width": 41, "height": 142, "data": {"values": [{"t": ""}]}, "mark": {"type": "text"}, "encoding": {"text": {"field": "t", "type": "nominal"}},
    "title": {"text": "C", "subtitle": "RAW264.7", "anchor": "start", "frame": "group", "fontSize": 16, "subtitleFont": "Liberation Sans", "subtitleFontSize": 11, "subtitleColor": "#111", "subtitlePadding": 26, "dx": 6, "offset": 2}},
   {"width": 128, "height": 112, "view": {"stroke": "#6b6b6b", "strokeWidth": 1},
    "title": {"text": "Control", "fontSize": 12, "offset": 4},
    "layer": [
     {"data": {"name": "curves"}, "transform": [{"filter": "datum.p === 'C1'"}],
      "mark": {"type": "area", "interpolate": "monotone", "color": "#f19a9a", "opacity": 1, "line": {"color": "#e2332b", "strokeWidth": 1}},
      "encoding": {
       "x": {"field": "x", "type": "quantitative", "scale": {"domain": [0.67, 7.23], "nice": false, "zero": false},
             "axis": {"values": [1.85,4,5,6,7], "labelExpr": "datum.value < 2 ? '0' : datum.value == 4 ? '10⁴' : datum.value == 5 ? '10⁵' : datum.value == 6 ? '10⁶' : '10⁷'", "labelFont": "DejaVu Sans", "labelFontSize": 7.5, "labelColor": "#222", "labelFlush": false, "tickSize": 3, "tickColor": "#333", "domain": false, "labelPadding": 2, "title": "CD11C-FITC", "titleFontSize": 8.5, "titleColor": "#222", "titlePadding": 7}},
       "y": {"field": "n", "type": "quantitative", "scale": {"domain": [0, 335], "nice": false, "zero": false}, "stack": null,
             "axis": {"values": [0,100,200,300], "labelFont": "DejaVu Sans", "labelFontSize": 7, "labelFontWeight": "bold", "labelColor": "#222", "tickSize": 3, "tickColor": "#333", "domain": false, "labelPadding": 1, "title": "Count", "titleFont": "DejaVu Sans", "titleFontSize": 7, "titleFontWeight": "bold", "titlePadding": 5}}}},
     {"data": {"name": "gates"}, "transform": [{"filter": "datum.p === 'C1'"}],
      "layer": [
       {"mark": {"type": "rule", "color": "#222", "strokeWidth": 1.1}, "encoding": {"x": {"field": "lo", "type": "quantitative"}, "x2": {"field": "gate"}, "y": {"field": "yn", "type": "quantitative"}}},
       {"mark": {"type": "rule", "color": "#222", "strokeWidth": 1.1}, "encoding": {"x": {"field": "gate", "type": "quantitative"}, "x2": {"field": "hi"}, "y": {"field": "yp", "type": "quantitative"}}},
       {"mark": {"type": "rule", "color": "#222", "strokeWidth": 1.1, "yOffset": -3.5, "y2Offset": 3.5}, "encoding": {"x": {"field": "gate", "type": "quantitative"}, "y": {"field": "yn", "type": "quantitative"}, "y2": {"field": "yn"}}},
       {"mark": {"type": "rule", "color": "#222", "strokeWidth": 1.1, "yOffset": -3.5, "y2Offset": 3.5}, "encoding": {"x": {"field": "gate", "type": "quantitative"}, "y": {"field": "yp", "type": "quantitative"}, "y2": {"field": "yp"}}},
       {"mark": {"type": "rule", "color": "#222", "strokeWidth": 1.1, "yOffset": -3.5, "y2Offset": 3.5}, "encoding": {"x": {"field": "hi", "type": "quantitative"}, "y": {"field": "yp", "type": "quantitative"}, "y2": {"field": "yp"}}},
       {"mark": {"type": "text", "align": "left", "baseline": "top", "dx": 4, "dy": 3, "font": "DejaVu Sans", "fontSize": 6.5, "lineBreak": "\n", "lineHeight": 8, "color": "#333"}, "encoding": {"x": {"field": "lo", "type": "quantitative"}, "y": {"field": "top", "type": "quantitative"}, "text": {"field": "nt", "type": "nominal"}}},
       {"mark": {"type": "text", "align": "right", "baseline": "top", "dx": -16, "dy": 3, "font": "DejaVu Sans", "fontSize": 6.5, "lineBreak": "\n", "lineHeight": 8, "color": "#333"}, "encoding": {"x": {"field": "hi", "type": "quantitative"}, "y": {"field": "top", "type": "quantitative"}, "text": {"field": "pt", "type": "nominal"}}},
       {"mark": {"type": "text", "align": "right", "baseline": "middle", "dx": -16, "dy": 36, "fontSize": 12, "color": "#111"}, "encoding": {"x": {"field": "hi", "type": "quantitative"}, "y": {"field": "top", "type": "quantitative"}, "text": {"field": "big", "type": "nominal"}}}]}
    ]},
   {"width": 128, "height": 112, "view": {"stroke": "#6b6b6b", "strokeWidth": 1},
    "title": {"text": "LPS + IFNγ (M1)", "fontSize": 12, "offset": 4},
    "layer": [
     {"data": {"name": "curves"}, "transform": [{"filter": "datum.p === 'C2'"}],
      "mark": {"type": "area", "interpolate": "monotone", "color": "#f19a9a", "opacity": 1, "line": {"color": "#e2332b", "strokeWidth": 1}},
      "encoding": {
       "x": {"field": "x", "type": "quantitative", "scale": {"domain": [0.67, 7.23], "nice": false, "zero": false},
             "axis": {"values": [1.85,4,5,6,7], "labelExpr": "datum.value < 2 ? '0' : datum.value == 4 ? '10⁴' : datum.value == 5 ? '10⁵' : datum.value == 6 ? '10⁶' : '10⁷'", "labelFont": "DejaVu Sans", "labelFontSize": 7.5, "labelColor": "#222", "labelFlush": false, "tickSize": 3, "tickColor": "#333", "domain": false, "labelPadding": 2, "title": "CD11C-FITC", "titleFontSize": 8.5, "titleColor": "#222", "titlePadding": 7}},
       "y": {"field": "n", "type": "quantitative", "scale": {"domain": [0, 320], "nice": false, "zero": false}, "stack": null,
             "axis": {"values": [0,100,200,300], "labelFont": "DejaVu Sans", "labelFontSize": 7, "labelFontWeight": "bold", "labelColor": "#222", "tickSize": 3, "tickColor": "#333", "domain": false, "labelPadding": 1, "title": "Count", "titleFont": "DejaVu Sans", "titleFontSize": 7, "titleFontWeight": "bold", "titlePadding": 5}}}},
     {"data": {"name": "gates"}, "transform": [{"filter": "datum.p === 'C2'"}],
      "layer": [
       {"mark": {"type": "rule", "color": "#222", "strokeWidth": 1.1}, "encoding": {"x": {"field": "lo", "type": "quantitative"}, "x2": {"field": "gate"}, "y": {"field": "yn", "type": "quantitative"}}},
       {"mark": {"type": "rule", "color": "#222", "strokeWidth": 1.1}, "encoding": {"x": {"field": "gate", "type": "quantitative"}, "x2": {"field": "hi"}, "y": {"field": "yp", "type": "quantitative"}}},
       {"mark": {"type": "rule", "color": "#222", "strokeWidth": 1.1, "yOffset": -3.5, "y2Offset": 3.5}, "encoding": {"x": {"field": "gate", "type": "quantitative"}, "y": {"field": "yn", "type": "quantitative"}, "y2": {"field": "yn"}}},
       {"mark": {"type": "rule", "color": "#222", "strokeWidth": 1.1, "yOffset": -3.5, "y2Offset": 3.5}, "encoding": {"x": {"field": "gate", "type": "quantitative"}, "y": {"field": "yp", "type": "quantitative"}, "y2": {"field": "yp"}}},
       {"mark": {"type": "rule", "color": "#222", "strokeWidth": 1.1, "yOffset": -3.5, "y2Offset": 3.5}, "encoding": {"x": {"field": "hi", "type": "quantitative"}, "y": {"field": "yp", "type": "quantitative"}, "y2": {"field": "yp"}}},
       {"mark": {"type": "text", "align": "left", "baseline": "top", "dx": 4, "dy": 3, "font": "DejaVu Sans", "fontSize": 6.5, "lineBreak": "\n", "lineHeight": 8, "color": "#333"}, "encoding": {"x": {"field": "lo", "type": "quantitative"}, "y": {"field": "top", "type": "quantitative"}, "text": {"field": "nt", "type": "nominal"}}},
       {"mark": {"type": "text", "align": "right", "baseline": "top", "dx": -16, "dy": 3, "font": "DejaVu Sans", "fontSize": 6.5, "lineBreak": "\n", "lineHeight": 8, "color": "#333"}, "encoding": {"x": {"field": "hi", "type": "quantitative"}, "y": {"field": "top", "type": "quantitative"}, "text": {"field": "pt", "type": "nominal"}}},
       {"mark": {"type": "text", "align": "right", "baseline": "middle", "dx": -13, "dy": 31, "fontSize": 12, "color": "#111"}, "encoding": {"x": {"field": "hi", "type": "quantitative"}, "y": {"field": "top", "type": "quantitative"}, "text": {"field": "big", "type": "nominal"}}}]}
    ]},
   {"width": 128, "height": 112, "view": {"stroke": "#6b6b6b", "strokeWidth": 1},
    "title": {"text": "M1 + 5 μM", "fontSize": 12, "offset": 4},
    "layer": [
     {"data": {"name": "curves"}, "transform": [{"filter": "datum.p === 'C3'"}],
      "mark": {"type": "area", "interpolate": "monotone", "color": "#f19a9a", "opacity": 1, "line": {"color": "#e2332b", "strokeWidth": 1}},
      "encoding": {
       "x": {"field": "x", "type": "quantitative", "scale": {"domain": [0.67, 7.23], "nice": false, "zero": false},
             "axis": {"values": [1.85,4,5,6,7], "labelExpr": "datum.value < 2 ? '0' : datum.value == 4 ? '10⁴' : datum.value == 5 ? '10⁵' : datum.value == 6 ? '10⁶' : '10⁷'", "labelFont": "DejaVu Sans", "labelFontSize": 7.5, "labelColor": "#222", "labelFlush": false, "tickSize": 3, "tickColor": "#333", "domain": false, "labelPadding": 2, "title": "CD11C-FITC", "titleFontSize": 8.5, "titleColor": "#222", "titlePadding": 7}},
       "y": {"field": "n", "type": "quantitative", "scale": {"domain": [0, 335], "nice": false, "zero": false}, "stack": null,
             "axis": {"values": [0,100,200,300], "labelFont": "DejaVu Sans", "labelFontSize": 7, "labelFontWeight": "bold", "labelColor": "#222", "tickSize": 3, "tickColor": "#333", "domain": false, "labelPadding": 1, "title": "Count", "titleFont": "DejaVu Sans", "titleFontSize": 7, "titleFontWeight": "bold", "titlePadding": 5}}}},
     {"data": {"name": "gates"}, "transform": [{"filter": "datum.p === 'C3'"}],
      "layer": [
       {"mark": {"type": "rule", "color": "#222", "strokeWidth": 1.1}, "encoding": {"x": {"field": "lo", "type": "quantitative"}, "x2": {"field": "gate"}, "y": {"field": "yn", "type": "quantitative"}}},
       {"mark": {"type": "rule", "color": "#222", "strokeWidth": 1.1}, "encoding": {"x": {"field": "gate", "type": "quantitative"}, "x2": {"field": "hi"}, "y": {"field": "yp", "type": "quantitative"}}},
       {"mark": {"type": "rule", "color": "#222", "strokeWidth": 1.1, "yOffset": -3.5, "y2Offset": 3.5}, "encoding": {"x": {"field": "gate", "type": "quantitative"}, "y": {"field": "yn", "type": "quantitative"}, "y2": {"field": "yn"}}},
       {"mark": {"type": "rule", "color": "#222", "strokeWidth": 1.1, "yOffset": -3.5, "y2Offset": 3.5}, "encoding": {"x": {"field": "gate", "type": "quantitative"}, "y": {"field": "yp", "type": "quantitative"}, "y2": {"field": "yp"}}},
       {"mark": {"type": "rule", "color": "#222", "strokeWidth": 1.1, "yOffset": -3.5, "y2Offset": 3.5}, "encoding": {"x": {"field": "hi", "type": "quantitative"}, "y": {"field": "yp", "type": "quantitative"}, "y2": {"field": "yp"}}},
       {"mark": {"type": "text", "align": "left", "baseline": "top", "dx": 4, "dy": 3, "font": "DejaVu Sans", "fontSize": 6.5, "lineBreak": "\n", "lineHeight": 8, "color": "#333"}, "encoding": {"x": {"field": "lo", "type": "quantitative"}, "y": {"field": "top", "type": "quantitative"}, "text": {"field": "nt", "type": "nominal"}}},
       {"mark": {"type": "text", "align": "right", "baseline": "top", "dx": -16, "dy": 3, "font": "DejaVu Sans", "fontSize": 6.5, "lineBreak": "\n", "lineHeight": 8, "color": "#333"}, "encoding": {"x": {"field": "hi", "type": "quantitative"}, "y": {"field": "top", "type": "quantitative"}, "text": {"field": "pt", "type": "nominal"}}},
       {"mark": {"type": "text", "align": "right", "baseline": "middle", "dx": -16, "dy": 31, "fontSize": 12, "color": "#111"}, "encoding": {"x": {"field": "hi", "type": "quantitative"}, "y": {"field": "top", "type": "quantitative"}, "text": {"field": "big", "type": "nominal"}}}]}
    ]},
   {"width": 128, "height": 112, "view": {"stroke": "#6b6b6b", "strokeWidth": 1},
    "title": {"text": "M1 + 10 μM", "fontSize": 12, "offset": 4},
    "layer": [
     {"data": {"name": "curves"}, "transform": [{"filter": "datum.p === 'C4'"}],
      "mark": {"type": "area", "interpolate": "monotone", "color": "#f19a9a", "opacity": 1, "line": {"color": "#e2332b", "strokeWidth": 1}},
      "encoding": {
       "x": {"field": "x", "type": "quantitative", "scale": {"domain": [0.67, 7.23], "nice": false, "zero": false},
             "axis": {"values": [1.85,4,5,6,7], "labelExpr": "datum.value < 2 ? '0' : datum.value == 4 ? '10⁴' : datum.value == 5 ? '10⁵' : datum.value == 6 ? '10⁶' : '10⁷'", "labelFont": "DejaVu Sans", "labelFontSize": 7.5, "labelColor": "#222", "labelFlush": false, "tickSize": 3, "tickColor": "#333", "domain": false, "labelPadding": 2, "title": "CD11C-FITC", "titleFontSize": 8.5, "titleColor": "#222", "titlePadding": 7}},
       "y": {"field": "n", "type": "quantitative", "scale": {"domain": [0, 350], "nice": false, "zero": false}, "stack": null,
             "axis": {"values": [0,100,200,300], "labelFont": "DejaVu Sans", "labelFontSize": 7, "labelFontWeight": "bold", "labelColor": "#222", "tickSize": 3, "tickColor": "#333", "domain": false, "labelPadding": 1, "title": "Count", "titleFont": "DejaVu Sans", "titleFontSize": 7, "titleFontWeight": "bold", "titlePadding": 5}}}},
     {"data": {"name": "gates"}, "transform": [{"filter": "datum.p === 'C4'"}],
      "layer": [
       {"mark": {"type": "rule", "color": "#222", "strokeWidth": 1.1}, "encoding": {"x": {"field": "lo", "type": "quantitative"}, "x2": {"field": "gate"}, "y": {"field": "yn", "type": "quantitative"}}},
       {"mark": {"type": "rule", "color": "#222", "strokeWidth": 1.1}, "encoding": {"x": {"field": "gate", "type": "quantitative"}, "x2": {"field": "hi"}, "y": {"field": "yp", "type": "quantitative"}}},
       {"mark": {"type": "rule", "color": "#222", "strokeWidth": 1.1, "yOffset": -3.5, "y2Offset": 3.5}, "encoding": {"x": {"field": "gate", "type": "quantitative"}, "y": {"field": "yn", "type": "quantitative"}, "y2": {"field": "yn"}}},
       {"mark": {"type": "rule", "color": "#222", "strokeWidth": 1.1, "yOffset": -3.5, "y2Offset": 3.5}, "encoding": {"x": {"field": "gate", "type": "quantitative"}, "y": {"field": "yp", "type": "quantitative"}, "y2": {"field": "yp"}}},
       {"mark": {"type": "rule", "color": "#222", "strokeWidth": 1.1, "yOffset": -3.5, "y2Offset": 3.5}, "encoding": {"x": {"field": "hi", "type": "quantitative"}, "y": {"field": "yp", "type": "quantitative"}, "y2": {"field": "yp"}}},
       {"mark": {"type": "text", "align": "left", "baseline": "top", "dx": 4, "dy": 3, "font": "DejaVu Sans", "fontSize": 6.5, "lineBreak": "\n", "lineHeight": 8, "color": "#333"}, "encoding": {"x": {"field": "lo", "type": "quantitative"}, "y": {"field": "top", "type": "quantitative"}, "text": {"field": "nt", "type": "nominal"}}},
       {"mark": {"type": "text", "align": "right", "baseline": "top", "dx": -16, "dy": 3, "font": "DejaVu Sans", "fontSize": 6.5, "lineBreak": "\n", "lineHeight": 8, "color": "#333"}, "encoding": {"x": {"field": "hi", "type": "quantitative"}, "y": {"field": "top", "type": "quantitative"}, "text": {"field": "pt", "type": "nominal"}}},
       {"mark": {"type": "text", "align": "right", "baseline": "middle", "dx": -13, "dy": 31, "fontSize": 12, "color": "#111"}, "encoding": {"x": {"field": "hi", "type": "quantitative"}, "y": {"field": "top", "type": "quantitative"}, "text": {"field": "big", "type": "nominal"}}}]}
    ]}
  ], "spacing": 40, "bounds": "flush"},
 {"hconcat": [
   {"width": 41, "height": 32, "data": {"values": [{"t": ""}]}, "mark": {"type": "text"}, "encoding": {"text": {"field": "t", "type": "nominal"}}},
   {"width": 101, "height": 1, "data": {"values": [{"e": 1}]},
    "mark": {"type": "point", "shape": "M-1,-0.45L0,0L-1,0.45", "filled": false, "size": 256, "stroke": "#333", "strokeWidth": 1, "opacity": 1},
    "encoding": {"x": {"field": "e", "type": "quantitative", "scale": {"domain": [0, 1], "nice": false, "zero": false},
      "axis": {"ticks": false, "labels": false, "domainColor": "#333", "domainWidth": 1, "title": "CD11C-FITC", "titleFontSize": 11.5, "titlePadding": 5}}}}
  ], "spacing": 40, "bounds": "flush"},
 {"hconcat": [
   {"width": 41, "height": 153, "data": {"values": [{"t": ""}]}, "mark": {"type": "text"}, "encoding": {"text": {"field": "t", "type": "nominal"}},
    "title": {"text": "D", "subtitle": "RAW264.7", "anchor": "start", "frame": "group", "fontSize": 16, "subtitleFont": "Liberation Sans", "subtitleFontSize": 11, "subtitleColor": "#111", "subtitlePadding": 14, "dx": 3, "offset": -44.5}},
   {"width": 128, "height": 111, "view": {"stroke": "#6b6b6b", "strokeWidth": 1},
    "layer": [
     {"data": {"name": "curves"}, "transform": [{"filter": "datum.p === 'D1'"}],
      "mark": {"type": "area", "interpolate": "monotone", "color": "#f19a9a", "opacity": 1, "line": {"color": "#e2332b", "strokeWidth": 1}},
      "encoding": {
       "x": {"field": "x", "type": "quantitative", "scale": {"domain": [0.67, 7.23], "nice": false, "zero": false},
             "axis": {"values": [1.85,4,5,6,7], "labelExpr": "datum.value < 2 ? '0' : datum.value == 4 ? '10⁴' : datum.value == 5 ? '10⁵' : datum.value == 6 ? '10⁶' : '10⁷'", "labelFont": "DejaVu Sans", "labelFontSize": 7.5, "labelColor": "#222", "labelFlush": false, "tickSize": 3, "tickColor": "#333", "domain": false, "labelPadding": 2, "title": "MHCII-IA/IE-PerCy5.5", "titleFontSize": 8.5, "titleColor": "#222", "titlePadding": 8}},
       "y": {"field": "n", "type": "quantitative", "scale": {"domain": [0, 345], "nice": false, "zero": false}, "stack": null,
             "axis": {"values": [0,100,200,300], "labelFont": "DejaVu Sans", "labelFontSize": 7, "labelFontWeight": "bold", "labelColor": "#222", "tickSize": 3, "tickColor": "#333", "domain": false, "labelPadding": 1, "title": "Count", "titleFont": "DejaVu Sans", "titleFontSize": 7, "titleFontWeight": "bold", "titlePadding": 5}}}},
     {"data": {"name": "gates"}, "transform": [{"filter": "datum.p === 'D1'"}],
      "layer": [
       {"mark": {"type": "rule", "color": "#222", "strokeWidth": 1.1}, "encoding": {"x": {"field": "lo", "type": "quantitative"}, "x2": {"field": "gate"}, "y": {"field": "yn", "type": "quantitative"}}},
       {"mark": {"type": "rule", "color": "#222", "strokeWidth": 1.1}, "encoding": {"x": {"field": "gate", "type": "quantitative"}, "x2": {"field": "hi"}, "y": {"field": "yp", "type": "quantitative"}}},
       {"mark": {"type": "rule", "color": "#222", "strokeWidth": 1.1, "yOffset": -3.5, "y2Offset": 3.5}, "encoding": {"x": {"field": "gate", "type": "quantitative"}, "y": {"field": "yn", "type": "quantitative"}, "y2": {"field": "yn"}}},
       {"mark": {"type": "rule", "color": "#222", "strokeWidth": 1.1, "yOffset": -3.5, "y2Offset": 3.5}, "encoding": {"x": {"field": "gate", "type": "quantitative"}, "y": {"field": "yp", "type": "quantitative"}, "y2": {"field": "yp"}}},
       {"mark": {"type": "rule", "color": "#222", "strokeWidth": 1.1, "yOffset": -3.5, "y2Offset": 3.5}, "encoding": {"x": {"field": "hi", "type": "quantitative"}, "y": {"field": "yp", "type": "quantitative"}, "y2": {"field": "yp"}}},
       {"mark": {"type": "text", "align": "left", "baseline": "top", "dx": 4, "dy": 3, "font": "DejaVu Sans", "fontSize": 6.5, "lineBreak": "\n", "lineHeight": 8, "color": "#333"}, "encoding": {"x": {"field": "lo", "type": "quantitative"}, "y": {"field": "top", "type": "quantitative"}, "text": {"field": "nt", "type": "nominal"}}},
       {"mark": {"type": "text", "align": "right", "baseline": "top", "dx": -16, "dy": 3, "font": "DejaVu Sans", "fontSize": 6.5, "lineBreak": "\n", "lineHeight": 8, "color": "#333"}, "encoding": {"x": {"field": "hi", "type": "quantitative"}, "y": {"field": "top", "type": "quantitative"}, "text": {"field": "pt", "type": "nominal"}}},
       {"mark": {"type": "text", "align": "right", "baseline": "middle", "dx": -16, "dy": 32, "fontSize": 12, "color": "#111"}, "encoding": {"x": {"field": "hi", "type": "quantitative"}, "y": {"field": "top", "type": "quantitative"}, "text": {"field": "big", "type": "nominal"}}}]}
    ]},
   {"width": 128, "height": 111, "view": {"stroke": "#6b6b6b", "strokeWidth": 1},
    "layer": [
     {"data": {"name": "curves"}, "transform": [{"filter": "datum.p === 'D2'"}],
      "mark": {"type": "area", "interpolate": "monotone", "color": "#f19a9a", "opacity": 1, "line": {"color": "#e2332b", "strokeWidth": 1}},
      "encoding": {
       "x": {"field": "x", "type": "quantitative", "scale": {"domain": [0.67, 7.23], "nice": false, "zero": false},
             "axis": {"values": [1.85,4,5,6,7], "labelExpr": "datum.value < 2 ? '0' : datum.value == 4 ? '10⁴' : datum.value == 5 ? '10⁵' : datum.value == 6 ? '10⁶' : '10⁷'", "labelFont": "DejaVu Sans", "labelFontSize": 7.5, "labelColor": "#222", "labelFlush": false, "tickSize": 3, "tickColor": "#333", "domain": false, "labelPadding": 2, "title": "MHCII-IA/IE-PerCy5.5", "titleFontSize": 8.5, "titleColor": "#222", "titlePadding": 8}},
       "y": {"field": "n", "type": "quantitative", "scale": {"domain": [0, 395], "nice": false, "zero": false}, "stack": null,
             "axis": {"values": [0,100,200,300], "labelFont": "DejaVu Sans", "labelFontSize": 7, "labelFontWeight": "bold", "labelColor": "#222", "tickSize": 3, "tickColor": "#333", "domain": false, "labelPadding": 1, "title": "Count", "titleFont": "DejaVu Sans", "titleFontSize": 7, "titleFontWeight": "bold", "titlePadding": 5}}}},
     {"data": {"name": "gates"}, "transform": [{"filter": "datum.p === 'D2'"}],
      "layer": [
       {"mark": {"type": "rule", "color": "#222", "strokeWidth": 1.1}, "encoding": {"x": {"field": "lo", "type": "quantitative"}, "x2": {"field": "gate"}, "y": {"field": "yn", "type": "quantitative"}}},
       {"mark": {"type": "rule", "color": "#222", "strokeWidth": 1.1}, "encoding": {"x": {"field": "gate", "type": "quantitative"}, "x2": {"field": "hi"}, "y": {"field": "yp", "type": "quantitative"}}},
       {"mark": {"type": "rule", "color": "#222", "strokeWidth": 1.1, "yOffset": -3.5, "y2Offset": 3.5}, "encoding": {"x": {"field": "gate", "type": "quantitative"}, "y": {"field": "yn", "type": "quantitative"}, "y2": {"field": "yn"}}},
       {"mark": {"type": "rule", "color": "#222", "strokeWidth": 1.1, "yOffset": -3.5, "y2Offset": 3.5}, "encoding": {"x": {"field": "gate", "type": "quantitative"}, "y": {"field": "yp", "type": "quantitative"}, "y2": {"field": "yp"}}},
       {"mark": {"type": "rule", "color": "#222", "strokeWidth": 1.1, "yOffset": -3.5, "y2Offset": 3.5}, "encoding": {"x": {"field": "hi", "type": "quantitative"}, "y": {"field": "yp", "type": "quantitative"}, "y2": {"field": "yp"}}},
       {"mark": {"type": "text", "align": "left", "baseline": "top", "dx": 4, "dy": 3, "font": "DejaVu Sans", "fontSize": 6.5, "lineBreak": "\n", "lineHeight": 8, "color": "#333"}, "encoding": {"x": {"field": "lo", "type": "quantitative"}, "y": {"field": "top", "type": "quantitative"}, "text": {"field": "nt", "type": "nominal"}}},
       {"mark": {"type": "text", "align": "right", "baseline": "top", "dx": -16, "dy": 3, "font": "DejaVu Sans", "fontSize": 6.5, "lineBreak": "\n", "lineHeight": 8, "color": "#333"}, "encoding": {"x": {"field": "hi", "type": "quantitative"}, "y": {"field": "top", "type": "quantitative"}, "text": {"field": "pt", "type": "nominal"}}},
       {"mark": {"type": "text", "align": "right", "baseline": "middle", "dx": -16, "dy": 32, "fontSize": 12, "color": "#111"}, "encoding": {"x": {"field": "hi", "type": "quantitative"}, "y": {"field": "top", "type": "quantitative"}, "text": {"field": "big", "type": "nominal"}}}]}
    ]},
   {"width": 128, "height": 111, "view": {"stroke": "#6b6b6b", "strokeWidth": 1},
    "layer": [
     {"data": {"name": "curves"}, "transform": [{"filter": "datum.p === 'D3'"}],
      "mark": {"type": "area", "interpolate": "monotone", "color": "#f19a9a", "opacity": 1, "line": {"color": "#e2332b", "strokeWidth": 1}},
      "encoding": {
       "x": {"field": "x", "type": "quantitative", "scale": {"domain": [0.67, 7.23], "nice": false, "zero": false},
             "axis": {"values": [1.85,4,5,6,7], "labelExpr": "datum.value < 2 ? '0' : datum.value == 4 ? '10⁴' : datum.value == 5 ? '10⁵' : datum.value == 6 ? '10⁶' : '10⁷'", "labelFont": "DejaVu Sans", "labelFontSize": 7.5, "labelColor": "#222", "labelFlush": false, "tickSize": 3, "tickColor": "#333", "domain": false, "labelPadding": 2, "title": "MHCII-IA/IE-PerCy5.5", "titleFontSize": 8.5, "titleColor": "#222", "titlePadding": 8}},
       "y": {"field": "n", "type": "quantitative", "scale": {"domain": [0, 272], "nice": false, "zero": false}, "stack": null,
             "axis": {"values": [0,50,100,150,200,250], "labelFont": "DejaVu Sans", "labelFontSize": 7, "labelFontWeight": "bold", "labelColor": "#222", "tickSize": 3, "tickColor": "#333", "domain": false, "labelPadding": 1, "title": "Count", "titleFont": "DejaVu Sans", "titleFontSize": 7, "titleFontWeight": "bold", "titlePadding": 5}}}},
     {"data": {"name": "gates"}, "transform": [{"filter": "datum.p === 'D3'"}],
      "layer": [
       {"mark": {"type": "rule", "color": "#222", "strokeWidth": 1.1}, "encoding": {"x": {"field": "lo", "type": "quantitative"}, "x2": {"field": "gate"}, "y": {"field": "yn", "type": "quantitative"}}},
       {"mark": {"type": "rule", "color": "#222", "strokeWidth": 1.1}, "encoding": {"x": {"field": "gate", "type": "quantitative"}, "x2": {"field": "hi"}, "y": {"field": "yp", "type": "quantitative"}}},
       {"mark": {"type": "rule", "color": "#222", "strokeWidth": 1.1, "yOffset": -3.5, "y2Offset": 3.5}, "encoding": {"x": {"field": "gate", "type": "quantitative"}, "y": {"field": "yn", "type": "quantitative"}, "y2": {"field": "yn"}}},
       {"mark": {"type": "rule", "color": "#222", "strokeWidth": 1.1, "yOffset": -3.5, "y2Offset": 3.5}, "encoding": {"x": {"field": "gate", "type": "quantitative"}, "y": {"field": "yp", "type": "quantitative"}, "y2": {"field": "yp"}}},
       {"mark": {"type": "rule", "color": "#222", "strokeWidth": 1.1, "yOffset": -3.5, "y2Offset": 3.5}, "encoding": {"x": {"field": "hi", "type": "quantitative"}, "y": {"field": "yp", "type": "quantitative"}, "y2": {"field": "yp"}}},
       {"mark": {"type": "text", "align": "left", "baseline": "top", "dx": 4, "dy": 3, "font": "DejaVu Sans", "fontSize": 6.5, "lineBreak": "\n", "lineHeight": 8, "color": "#333"}, "encoding": {"x": {"field": "lo", "type": "quantitative"}, "y": {"field": "top", "type": "quantitative"}, "text": {"field": "nt", "type": "nominal"}}},
       {"mark": {"type": "text", "align": "right", "baseline": "top", "dx": -16, "dy": 3, "font": "DejaVu Sans", "fontSize": 6.5, "lineBreak": "\n", "lineHeight": 8, "color": "#333"}, "encoding": {"x": {"field": "hi", "type": "quantitative"}, "y": {"field": "top", "type": "quantitative"}, "text": {"field": "pt", "type": "nominal"}}},
       {"mark": {"type": "text", "align": "right", "baseline": "middle", "dx": -15, "dy": 33, "fontSize": 12, "color": "#111"}, "encoding": {"x": {"field": "hi", "type": "quantitative"}, "y": {"field": "top", "type": "quantitative"}, "text": {"field": "big", "type": "nominal"}}}]}
    ]},
   {"width": 128, "height": 111, "view": {"stroke": "#6b6b6b", "strokeWidth": 1},
    "layer": [
     {"data": {"name": "curves"}, "transform": [{"filter": "datum.p === 'D4'"}],
      "mark": {"type": "area", "interpolate": "monotone", "color": "#f19a9a", "opacity": 1, "line": {"color": "#e2332b", "strokeWidth": 1}},
      "encoding": {
       "x": {"field": "x", "type": "quantitative", "scale": {"domain": [0.67, 7.23], "nice": false, "zero": false},
             "axis": {"values": [1.85,4,5,6,7], "labelExpr": "datum.value < 2 ? '0' : datum.value == 4 ? '10⁴' : datum.value == 5 ? '10⁵' : datum.value == 6 ? '10⁶' : '10⁷'", "labelFont": "DejaVu Sans", "labelFontSize": 7.5, "labelColor": "#222", "labelFlush": false, "tickSize": 3, "tickColor": "#333", "domain": false, "labelPadding": 2, "title": "MHCII-IA/IE-PerCy5.5", "titleFontSize": 8.5, "titleColor": "#222", "titlePadding": 8}},
       "y": {"field": "n", "type": "quantitative", "scale": {"domain": [0, 373], "nice": false, "zero": false}, "stack": null,
             "axis": {"values": [0,100,200,300], "labelFont": "DejaVu Sans", "labelFontSize": 7, "labelFontWeight": "bold", "labelColor": "#222", "tickSize": 3, "tickColor": "#333", "domain": false, "labelPadding": 1, "title": "Count", "titleFont": "DejaVu Sans", "titleFontSize": 7, "titleFontWeight": "bold", "titlePadding": 5}}}},
     {"data": {"name": "gates"}, "transform": [{"filter": "datum.p === 'D4'"}],
      "layer": [
       {"mark": {"type": "rule", "color": "#222", "strokeWidth": 1.1}, "encoding": {"x": {"field": "lo", "type": "quantitative"}, "x2": {"field": "gate"}, "y": {"field": "yn", "type": "quantitative"}}},
       {"mark": {"type": "rule", "color": "#222", "strokeWidth": 1.1}, "encoding": {"x": {"field": "gate", "type": "quantitative"}, "x2": {"field": "hi"}, "y": {"field": "yp", "type": "quantitative"}}},
       {"mark": {"type": "rule", "color": "#222", "strokeWidth": 1.1, "yOffset": -3.5, "y2Offset": 3.5}, "encoding": {"x": {"field": "gate", "type": "quantitative"}, "y": {"field": "yn", "type": "quantitative"}, "y2": {"field": "yn"}}},
       {"mark": {"type": "rule", "color": "#222", "strokeWidth": 1.1, "yOffset": -3.5, "y2Offset": 3.5}, "encoding": {"x": {"field": "gate", "type": "quantitative"}, "y": {"field": "yp", "type": "quantitative"}, "y2": {"field": "yp"}}},
       {"mark": {"type": "rule", "color": "#222", "strokeWidth": 1.1, "yOffset": -3.5, "y2Offset": 3.5}, "encoding": {"x": {"field": "hi", "type": "quantitative"}, "y": {"field": "yp", "type": "quantitative"}, "y2": {"field": "yp"}}},
       {"mark": {"type": "text", "align": "left", "baseline": "top", "dx": 4, "dy": 3, "font": "DejaVu Sans", "fontSize": 6.5, "lineBreak": "\n", "lineHeight": 8, "color": "#333"}, "encoding": {"x": {"field": "lo", "type": "quantitative"}, "y": {"field": "top", "type": "quantitative"}, "text": {"field": "nt", "type": "nominal"}}},
       {"mark": {"type": "text", "align": "right", "baseline": "top", "dx": -16, "dy": 3, "font": "DejaVu Sans", "fontSize": 6.5, "lineBreak": "\n", "lineHeight": 8, "color": "#333"}, "encoding": {"x": {"field": "hi", "type": "quantitative"}, "y": {"field": "top", "type": "quantitative"}, "text": {"field": "pt", "type": "nominal"}}},
       {"mark": {"type": "text", "align": "right", "baseline": "middle", "dx": -16, "dy": 33, "fontSize": 12, "color": "#111"}, "encoding": {"x": {"field": "hi", "type": "quantitative"}, "y": {"field": "top", "type": "quantitative"}, "text": {"field": "big", "type": "nominal"}}}]}
    ]}
  ], "spacing": 40, "bounds": "flush"},
 {"hconcat": [
   {"width": 41, "height": 22, "data": {"values": [{"t": ""}]}, "mark": {"type": "text"}, "encoding": {"text": {"field": "t", "type": "nominal"}}},
   {"width": 104, "height": 1, "data": {"values": [{"e": 1}]},
    "mark": {"type": "point", "shape": "M-1,-0.45L0,0L-1,0.45", "filled": false, "size": 256, "stroke": "#333", "strokeWidth": 1, "opacity": 1},
    "encoding": {"x": {"field": "e", "type": "quantitative", "scale": {"domain": [0, 1], "nice": false, "zero": false},
      "axis": {"ticks": false, "labels": false, "domainColor": "#333", "domainWidth": 1, "title": "MHCII-IA/IE-PerCy5.5", "titleFontSize": 11, "titlePadding": 7}}}}
  ], "spacing": 40, "bounds": "flush"}
]
}
